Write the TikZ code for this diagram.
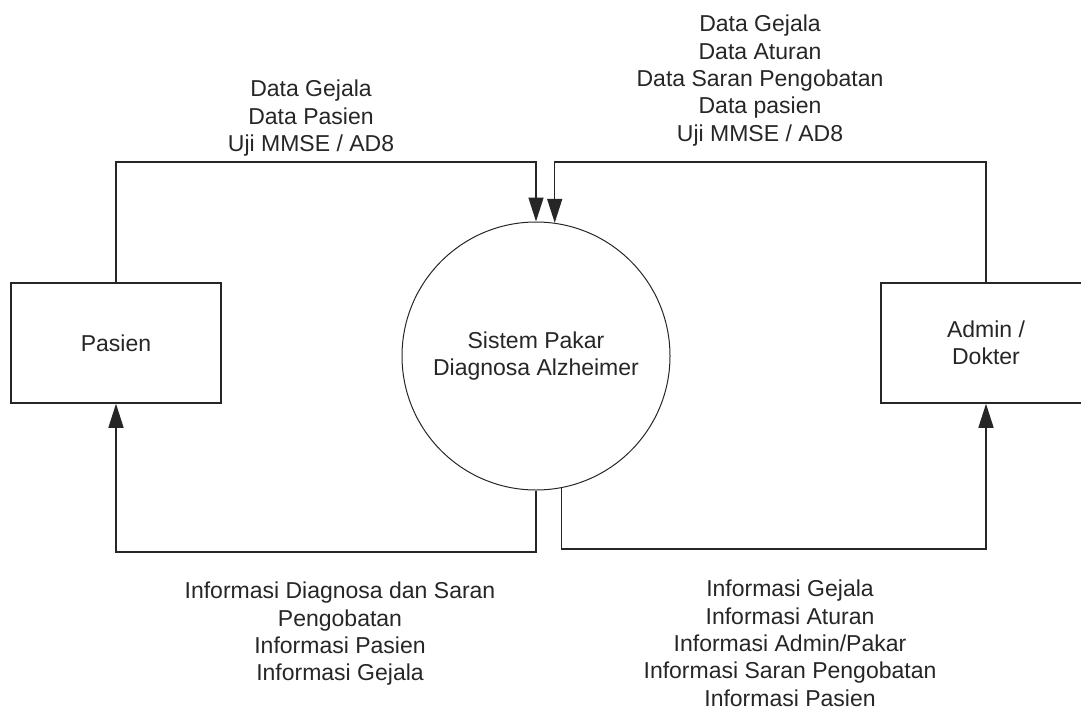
\documentclass[tikz,border=0pt]{standalone}
\usepackage{fontspec}
\setmainfont{Liberation Sans}
\usetikzlibrary{arrows.meta}
\begin{document}
\begin{tikzpicture}[x=1pt,y=-1pt,
  every node/.style={font=\fontsize{23}{27.3}\selectfont, inner sep=0pt, text=black!85},
  entity/.style={draw=black!85, line width=1.5pt, minimum width=210pt, minimum height=120pt, align=center},
  process/.style={draw=black!85, circle, line width=1pt, minimum size=268pt, align=center},
  flow/.style={draw=black!85, line width=1.5pt, -{Triangle[length=24pt,width=15pt]}},
  lbl/.style={align=center, anchor=north}]
\clip (0,0) rectangle (1081,709);

% external entities and the process
\node[entity] (pasien) at (116,343) {Pasien};
\node[entity] (admin) at (986,343) {Admin /\\Dokter};
\node[process] (sys) at (536,356) {Sistem Pakar\\Diagnosa Alzheimer};

% routing levels of the flows
\coordinate (topline) at (0,162);
\coordinate (lowL) at (0,552);
\coordinate (lowR) at (0,549);

% inbound flows
\draw[flow] (pasien.north) |- (sys.north |- topline) -- (sys.north);
\draw[flow] (admin.north) |- (sys.82 |- topline) -- (sys.82);

% outbound flows
\draw[flow] (sys.south) |- (pasien.south |- lowL) -- (pasien.south);
\draw[flow] (sys.-79) |- (admin.south |- lowR) -- (admin.south);

% flow labels
\node[lbl] (l1) at (311,80) {Data Gejala\\Data Pasien\\Uji MMSE / AD8};
\node[lbl] (l2) at (760,15) {Data Gejala\\Data Aturan\\Data Saran Pengobatan\\Data pasien\\Uji MMSE / AD8};
\node[lbl] (l3) at (340,582) {Informasi Diagnosa dan Saran\\Pengobatan\\Informasi Pasien\\Informasi Gejala};
\node[lbl] (l4) at (790,580) {Informasi Gejala\\Informasi Aturan\\Informasi Admin/Pakar\\Informasi Saran Pengobatan\\Informasi Pasien};
\end{tikzpicture}
\end{document}
